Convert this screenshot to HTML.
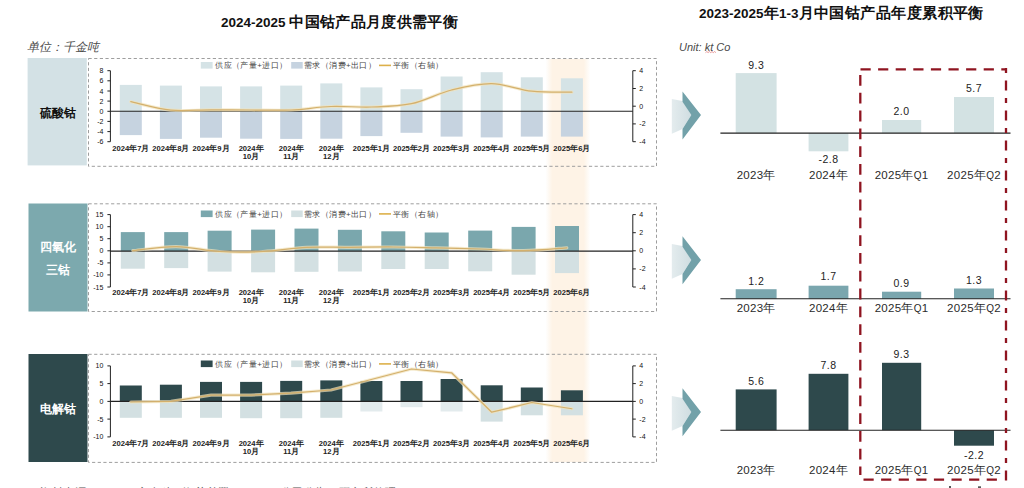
<!DOCTYPE html>
<html><head><meta charset="utf-8"><style>
*{margin:0;padding:0}
html,body{width:1024px;height:488px;overflow:hidden;background:#fff}
body{position:relative;font-family:"Liberation Sans", sans-serif}
svg{position:absolute;left:0;top:0}
.tk{font-size:7px;fill:#111;font-family:"Liberation Sans", sans-serif}
.xl{font-size:7.6px;fill:#222;font-family:"Liberation Sans", sans-serif;font-weight:bold}
.lg{font-size:7.9px;letter-spacing:0.4px;fill:#444;font-family:"Liberation Sans", sans-serif}
.vl{font-size:10.5px;fill:#222;font-family:"Liberation Sans", sans-serif;letter-spacing:0.5px}
.ct{font-size:11.5px;fill:#2a2a2a;font-family:"Liberation Sans", sans-serif;letter-spacing:0.3px}
.t{position:absolute;white-space:nowrap;font-family:"Liberation Sans", sans-serif}
</style></head><body>
<svg width="1024" height="488" viewBox="0 0 1024 488">
<defs><linearGradient id="hl" x1="0" x2="1" y1="0" y2="0"><stop offset="0" stop-color="#fdf3e6" stop-opacity="0"/><stop offset="0.15" stop-color="#fef3e6"/><stop offset="0.85" stop-color="#fef3e6"/><stop offset="1" stop-color="#fdf3e6" stop-opacity="0"/></linearGradient></defs><rect x="545.5" y="59" width="45" height="403" fill="url(#hl)"/><rect x="27.6" y="58" width="59.2" height="107.4" fill="#d3e1e5"/><rect x="28.5" y="203.5" width="59" height="108" fill="#7ca9ae"/><rect x="28.5" y="354" width="59" height="108" fill="#2e494c"/><rect x="88.5" y="58.5" width="568.0" height="107.80000000000001" fill="none" stroke="#9e9e9e" stroke-width="1" stroke-dasharray="3.2 2.45"/><rect x="88.5" y="203.8" width="568.0" height="107.69999999999999" fill="none" stroke="#9e9e9e" stroke-width="1" stroke-dasharray="3.2 2.45"/><rect x="88.5" y="354.3" width="568.0" height="108.09999999999997" fill="none" stroke="#9e9e9e" stroke-width="1" stroke-dasharray="3.2 2.45"/><rect x="119.8" y="84.9" width="22" height="26.4" fill="#d5e3e6"/><rect x="119.8" y="111.3" width="22" height="23.8" fill="#c6d3e0"/><rect x="159.9" y="85.6" width="22" height="25.7" fill="#d5e3e6"/><rect x="159.9" y="111.3" width="22" height="27.6" fill="#c6d3e0"/><rect x="200.0" y="86.4" width="22" height="24.9" fill="#d5e3e6"/><rect x="200.0" y="111.3" width="22" height="26.4" fill="#c6d3e0"/><rect x="240.1" y="86.4" width="22" height="24.9" fill="#d5e3e6"/><rect x="240.1" y="111.3" width="22" height="27.4" fill="#c6d3e0"/><rect x="280.2" y="85.6" width="22" height="25.7" fill="#d5e3e6"/><rect x="280.2" y="111.3" width="22" height="27.6" fill="#c6d3e0"/><rect x="320.3" y="83.4" width="22" height="27.9" fill="#d5e3e6"/><rect x="320.3" y="111.3" width="22" height="27.4" fill="#c6d3e0"/><rect x="360.4" y="87.4" width="22" height="23.9" fill="#d5e3e6"/><rect x="360.4" y="111.3" width="22" height="24.8" fill="#c6d3e0"/><rect x="400.5" y="89.2" width="22" height="22.1" fill="#d5e3e6"/><rect x="400.5" y="111.3" width="22" height="21.5" fill="#c6d3e0"/><rect x="440.6" y="76.5" width="22" height="34.8" fill="#d5e3e6"/><rect x="440.6" y="111.3" width="22" height="25.3" fill="#c6d3e0"/><rect x="480.7" y="72.2" width="22" height="39.1" fill="#d5e3e6"/><rect x="480.7" y="111.3" width="22" height="26.1" fill="#c6d3e0"/><rect x="520.8" y="77.3" width="22" height="34.0" fill="#d5e3e6"/><rect x="520.8" y="111.3" width="22" height="25.3" fill="#c6d3e0"/><rect x="560.9" y="78.3" width="22" height="33.0" fill="#d5e3e6"/><rect x="560.9" y="111.3" width="22" height="25.3" fill="#c6d3e0"/><line x1="110.4" x2="632.8" y1="111.3" y2="111.3" stroke="#222" stroke-width="1.1"/><line x1="110.4" x2="110.4" y1="70.7" y2="141.7" stroke="#222" stroke-width="1"/><line x1="632.8" x2="632.8" y1="70.7" y2="141.7" stroke="#222" stroke-width="1"/><line x1="107.4" x2="110.4" y1="70.7" y2="70.7" stroke="#222" stroke-width="1"/><text x="103.4" y="73.2" text-anchor="end" class="tk">8</text><line x1="107.4" x2="110.4" y1="80.8" y2="80.8" stroke="#222" stroke-width="1"/><text x="103.4" y="83.3" text-anchor="end" class="tk">6</text><line x1="107.4" x2="110.4" y1="91.0" y2="91.0" stroke="#222" stroke-width="1"/><text x="103.4" y="93.5" text-anchor="end" class="tk">4</text><line x1="107.4" x2="110.4" y1="101.1" y2="101.1" stroke="#222" stroke-width="1"/><text x="103.4" y="103.6" text-anchor="end" class="tk">2</text><line x1="107.4" x2="110.4" y1="111.3" y2="111.3" stroke="#222" stroke-width="1"/><text x="103.4" y="113.8" text-anchor="end" class="tk">0</text><line x1="107.4" x2="110.4" y1="121.4" y2="121.4" stroke="#222" stroke-width="1"/><text x="103.4" y="123.9" text-anchor="end" class="tk">-2</text><line x1="107.4" x2="110.4" y1="131.6" y2="131.6" stroke="#222" stroke-width="1"/><text x="103.4" y="134.1" text-anchor="end" class="tk">-4</text><line x1="107.4" x2="110.4" y1="141.7" y2="141.7" stroke="#222" stroke-width="1"/><text x="103.4" y="144.2" text-anchor="end" class="tk">-6</text><line x1="632.8" x2="635.8" y1="70.7" y2="70.7" stroke="#222" stroke-width="1"/><text x="639.3" y="73.2" class="tk">4</text><line x1="632.8" x2="635.8" y1="88.5" y2="88.5" stroke="#222" stroke-width="1"/><text x="639.3" y="91.0" class="tk">2</text><line x1="632.8" x2="635.8" y1="106.2" y2="106.2" stroke="#222" stroke-width="1"/><text x="639.3" y="108.7" class="tk">0</text><line x1="632.8" x2="635.8" y1="123.9" y2="123.9" stroke="#222" stroke-width="1"/><text x="639.3" y="126.4" class="tk">-2</text><line x1="632.8" x2="635.8" y1="141.7" y2="141.7" stroke="#222" stroke-width="1"/><text x="639.3" y="144.2" class="tk">-4</text><path d="M130.8,101.7 C137.5,103.1 157.5,108.9 170.9,110.2 C184.3,111.5 197.7,109.8 211,109.8 C224.3,109.8 237.7,110.0 251,110 C264.3,110.0 277.7,110.6 291,110 C304.3,109.4 317.6,107.0 331,106.5 C344.4,106.0 358.0,107.5 371.4,107 C384.8,106.5 398.1,106.5 411.5,103.7 C424.9,100.9 438.2,93.3 451.6,90 C465.0,86.7 478.3,83.4 491.7,83.6 C505.1,83.8 518.4,89.8 531.8,91.2 C545.2,92.6 565.2,92.0 571.9,92.2" fill="none" stroke="#f1e2bb" stroke-width="3.2" stroke-linejoin="round" stroke-linecap="round" opacity="0.7"/><path d="M130.8,101.7 C137.5,103.1 157.5,108.9 170.9,110.2 C184.3,111.5 197.7,109.8 211,109.8 C224.3,109.8 237.7,110.0 251,110 C264.3,110.0 277.7,110.6 291,110 C304.3,109.4 317.6,107.0 331,106.5 C344.4,106.0 358.0,107.5 371.4,107 C384.8,106.5 398.1,106.5 411.5,103.7 C424.9,100.9 438.2,93.3 451.6,90 C465.0,86.7 478.3,83.4 491.7,83.6 C505.1,83.8 518.4,89.8 531.8,91.2 C545.2,92.6 565.2,92.0 571.9,92.2" fill="none" stroke="#d4b06c" stroke-width="1.25" stroke-linejoin="round" stroke-linecap="round"/><text x="130.8" y="150.6" text-anchor="middle" class="xl">2024年7月</text><text x="170.9" y="150.6" text-anchor="middle" class="xl">2024年8月</text><text x="211.0" y="150.6" text-anchor="middle" class="xl">2024年9月</text><text x="251.1" y="150.6" text-anchor="middle" class="xl">2024年</text><text x="251.1" y="159.1" text-anchor="middle" class="xl">10月</text><text x="291.2" y="150.6" text-anchor="middle" class="xl">2024年</text><text x="291.2" y="159.1" text-anchor="middle" class="xl">11月</text><text x="331.3" y="150.6" text-anchor="middle" class="xl">2024年</text><text x="331.3" y="159.1" text-anchor="middle" class="xl">12月</text><text x="371.4" y="150.6" text-anchor="middle" class="xl">2025年1月</text><text x="411.5" y="150.6" text-anchor="middle" class="xl">2025年2月</text><text x="451.6" y="150.6" text-anchor="middle" class="xl">2025年3月</text><text x="491.7" y="150.6" text-anchor="middle" class="xl">2025年4月</text><text x="531.8" y="150.6" text-anchor="middle" class="xl">2025年5月</text><text x="571.9" y="150.6" text-anchor="middle" class="xl">2025年6月</text><rect x="200.8" y="62" width="11.8" height="6.6" fill="#d5e3e6"/><text x="215.3" y="68.2" class="lg">供应（产量+进口）</text><rect x="291.2" y="62" width="11.5" height="6.6" fill="#c6d3e0"/><text x="304" y="68.2" class="lg">需求（消费+出口）</text><line x1="379" x2="391" y1="65.4" y2="65.4" stroke="#ddb04a" stroke-width="1.6"/><text x="393" y="68.2" class="lg">平衡（右轴）</text><rect x="120.8" y="232.1" width="24" height="19.0" fill="#7aa7ad"/><rect x="120.8" y="251.1" width="24" height="17.6" fill="#d3e0e2"/><rect x="164.2" y="232.1" width="24" height="19.0" fill="#7aa7ad"/><rect x="164.2" y="251.1" width="24" height="17.0" fill="#d3e0e2"/><rect x="207.6" y="230.7" width="24" height="20.4" fill="#7aa7ad"/><rect x="207.6" y="251.1" width="24" height="20.5" fill="#d3e0e2"/><rect x="251.1" y="229.6" width="24" height="21.5" fill="#7aa7ad"/><rect x="251.1" y="251.1" width="24" height="21.2" fill="#d3e0e2"/><rect x="294.5" y="228.6" width="24" height="22.5" fill="#7aa7ad"/><rect x="294.5" y="251.1" width="24" height="20.7" fill="#d3e0e2"/><rect x="337.9" y="229.8" width="24" height="21.3" fill="#7aa7ad"/><rect x="337.9" y="251.1" width="24" height="20.4" fill="#d3e0e2"/><rect x="381.3" y="231.3" width="24" height="19.8" fill="#7aa7ad"/><rect x="381.3" y="251.1" width="24" height="17.9" fill="#d3e0e2"/><rect x="424.7" y="232.5" width="24" height="18.6" fill="#7aa7ad"/><rect x="424.7" y="251.1" width="24" height="17.9" fill="#d3e0e2"/><rect x="468.2" y="230.6" width="24" height="20.5" fill="#7aa7ad"/><rect x="468.2" y="251.1" width="24" height="20.2" fill="#d3e0e2"/><rect x="511.6" y="226.9" width="24" height="24.2" fill="#7aa7ad"/><rect x="511.6" y="251.1" width="24" height="23.6" fill="#d3e0e2"/><rect x="555.0" y="226.0" width="24" height="25.1" fill="#7aa7ad"/><rect x="555.0" y="251.1" width="24" height="22.0" fill="#d3e0e2"/><line x1="110.4" x2="632.8" y1="251.1" y2="251.1" stroke="#222" stroke-width="1.1"/><line x1="110.4" x2="110.4" y1="214.6" y2="287.0" stroke="#222" stroke-width="1"/><line x1="632.8" x2="632.8" y1="214.6" y2="287.0" stroke="#222" stroke-width="1"/><line x1="107.4" x2="110.4" y1="214.6" y2="214.6" stroke="#222" stroke-width="1"/><text x="103.4" y="217.1" text-anchor="end" class="tk">15</text><line x1="107.4" x2="110.4" y1="226.7" y2="226.7" stroke="#222" stroke-width="1"/><text x="103.4" y="229.2" text-anchor="end" class="tk">10</text><line x1="107.4" x2="110.4" y1="238.7" y2="238.7" stroke="#222" stroke-width="1"/><text x="103.4" y="241.2" text-anchor="end" class="tk">5</text><line x1="107.4" x2="110.4" y1="250.8" y2="250.8" stroke="#222" stroke-width="1"/><text x="103.4" y="253.3" text-anchor="end" class="tk">0</text><line x1="107.4" x2="110.4" y1="262.9" y2="262.9" stroke="#222" stroke-width="1"/><text x="103.4" y="265.4" text-anchor="end" class="tk">-5</text><line x1="107.4" x2="110.4" y1="274.9" y2="274.9" stroke="#222" stroke-width="1"/><text x="103.4" y="277.4" text-anchor="end" class="tk">-10</text><line x1="107.4" x2="110.4" y1="287.0" y2="287.0" stroke="#222" stroke-width="1"/><text x="103.4" y="289.5" text-anchor="end" class="tk">-15</text><line x1="632.8" x2="635.8" y1="214.6" y2="214.6" stroke="#222" stroke-width="1"/><text x="639.3" y="217.1" class="tk">4</text><line x1="632.8" x2="635.8" y1="232.7" y2="232.7" stroke="#222" stroke-width="1"/><text x="639.3" y="235.2" class="tk">2</text><line x1="632.8" x2="635.8" y1="250.8" y2="250.8" stroke="#222" stroke-width="1"/><text x="639.3" y="253.3" class="tk">0</text><line x1="632.8" x2="635.8" y1="268.9" y2="268.9" stroke="#222" stroke-width="1"/><text x="639.3" y="271.4" class="tk">-2</text><line x1="632.8" x2="635.8" y1="287.0" y2="287.0" stroke="#222" stroke-width="1"/><text x="639.3" y="289.5" class="tk">-4</text><path d="M132.8,250.7 C140.0,250.0 161.7,246.5 176.2,246.6 C190.7,246.7 205.1,250.7 219.6,251.5 C234.1,252.3 248.5,252.2 263,251.5 C277.5,250.8 291.9,248.0 306.4,247.3 C320.9,246.6 335.3,247.4 349.8,247.3 C364.3,247.2 378.7,246.9 393.2,247 C407.7,247.1 422.1,247.5 436.6,247.8 C451.1,248.1 465.5,248.5 480,249 C494.5,249.5 508.9,250.9 523.4,250.7 C537.9,250.5 559.6,248.3 566.8,247.8" fill="none" stroke="#f1e2bb" stroke-width="3.2" stroke-linejoin="round" stroke-linecap="round" opacity="0.7"/><path d="M132.8,250.7 C140.0,250.0 161.7,246.5 176.2,246.6 C190.7,246.7 205.1,250.7 219.6,251.5 C234.1,252.3 248.5,252.2 263,251.5 C277.5,250.8 291.9,248.0 306.4,247.3 C320.9,246.6 335.3,247.4 349.8,247.3 C364.3,247.2 378.7,246.9 393.2,247 C407.7,247.1 422.1,247.5 436.6,247.8 C451.1,248.1 465.5,248.5 480,249 C494.5,249.5 508.9,250.9 523.4,250.7 C537.9,250.5 559.6,248.3 566.8,247.8" fill="none" stroke="#d4b06c" stroke-width="1.25" stroke-linejoin="round" stroke-linecap="round"/><text x="130.8" y="294.6" text-anchor="middle" class="xl">2024年7月</text><text x="170.9" y="294.6" text-anchor="middle" class="xl">2024年8月</text><text x="211.0" y="294.6" text-anchor="middle" class="xl">2024年9月</text><text x="251.1" y="294.6" text-anchor="middle" class="xl">2024年</text><text x="251.1" y="303.1" text-anchor="middle" class="xl">10月</text><text x="291.2" y="294.6" text-anchor="middle" class="xl">2024年</text><text x="291.2" y="303.1" text-anchor="middle" class="xl">11月</text><text x="331.3" y="294.6" text-anchor="middle" class="xl">2024年</text><text x="331.3" y="303.1" text-anchor="middle" class="xl">12月</text><text x="371.4" y="294.6" text-anchor="middle" class="xl">2025年1月</text><text x="411.5" y="294.6" text-anchor="middle" class="xl">2025年2月</text><text x="451.6" y="294.6" text-anchor="middle" class="xl">2025年3月</text><text x="491.7" y="294.6" text-anchor="middle" class="xl">2025年4月</text><text x="531.8" y="294.6" text-anchor="middle" class="xl">2025年5月</text><text x="571.9" y="294.6" text-anchor="middle" class="xl">2025年6月</text><rect x="200.8" y="210.5" width="11.8" height="6.6" fill="#7aa7ad"/><text x="215.3" y="216.7" class="lg">供应（产量+进口）</text><rect x="291.2" y="210.5" width="11.5" height="6.6" fill="#d3e0e2"/><text x="304" y="216.7" class="lg">需求（消费+出口）</text><line x1="379" x2="391" y1="213.9" y2="213.9" stroke="#ddb04a" stroke-width="1.6"/><text x="393" y="216.7" class="lg">平衡（右轴）</text><rect x="119.8" y="385.5" width="22" height="15.9" fill="#2e494c"/><rect x="119.8" y="401.4" width="22" height="16.4" fill="#d3e0e2"/><rect x="159.9" y="384.7" width="22" height="16.7" fill="#2e494c"/><rect x="159.9" y="401.4" width="22" height="16.4" fill="#d3e0e2"/><rect x="200.0" y="381.9" width="22" height="19.5" fill="#2e494c"/><rect x="200.0" y="401.4" width="22" height="16.4" fill="#d3e0e2"/><rect x="240.1" y="381.9" width="22" height="19.5" fill="#2e494c"/><rect x="240.1" y="401.4" width="22" height="16.8" fill="#d3e0e2"/><rect x="280.2" y="380.9" width="22" height="20.5" fill="#2e494c"/><rect x="280.2" y="401.4" width="22" height="16.8" fill="#d3e0e2"/><rect x="320.3" y="380.4" width="22" height="21.0" fill="#2e494c"/><rect x="320.3" y="401.4" width="22" height="16.4" fill="#d3e0e2"/><rect x="360.4" y="381" width="22" height="20.4" fill="#2e494c"/><rect x="360.4" y="401.4" width="22" height="10.1" fill="#e3ebed"/><rect x="400.5" y="381" width="22" height="20.4" fill="#2e494c"/><rect x="400.5" y="401.4" width="22" height="5.8" fill="#e3ebed"/><rect x="440.6" y="379" width="22" height="22.4" fill="#2e494c"/><rect x="440.6" y="401.4" width="22" height="10.1" fill="#e3ebed"/><rect x="480.7" y="385.3" width="22" height="16.1" fill="#2e494c"/><rect x="480.7" y="401.4" width="22" height="20.2" fill="#d3e0e2"/><rect x="520.8" y="387.5" width="22" height="13.9" fill="#2e494c"/><rect x="520.8" y="401.4" width="22" height="13.9" fill="#d3e0e2"/><rect x="560.9" y="390.3" width="22" height="11.1" fill="#2e494c"/><rect x="560.9" y="401.4" width="22" height="13.9" fill="#d3e0e2"/><line x1="110.4" x2="632.8" y1="401.4" y2="401.4" stroke="#222" stroke-width="1.1"/><line x1="110.4" x2="110.4" y1="365.9" y2="436.9" stroke="#222" stroke-width="1"/><line x1="632.8" x2="632.8" y1="365.9" y2="436.9" stroke="#222" stroke-width="1"/><line x1="107.4" x2="110.4" y1="365.9" y2="365.9" stroke="#222" stroke-width="1"/><text x="103.4" y="368.4" text-anchor="end" class="tk">10</text><line x1="107.4" x2="110.4" y1="383.6" y2="383.6" stroke="#222" stroke-width="1"/><text x="103.4" y="386.1" text-anchor="end" class="tk">5</text><line x1="107.4" x2="110.4" y1="401.4" y2="401.4" stroke="#222" stroke-width="1"/><text x="103.4" y="403.9" text-anchor="end" class="tk">0</text><line x1="107.4" x2="110.4" y1="419.1" y2="419.1" stroke="#222" stroke-width="1"/><text x="103.4" y="421.6" text-anchor="end" class="tk">-5</text><line x1="107.4" x2="110.4" y1="436.9" y2="436.9" stroke="#222" stroke-width="1"/><text x="103.4" y="439.4" text-anchor="end" class="tk">-10</text><line x1="632.8" x2="635.8" y1="365.9" y2="365.9" stroke="#222" stroke-width="1"/><text x="639.3" y="368.4" class="tk">4</text><line x1="632.8" x2="635.8" y1="383.6" y2="383.6" stroke="#222" stroke-width="1"/><text x="639.3" y="386.1" class="tk">2</text><line x1="632.8" x2="635.8" y1="401.4" y2="401.4" stroke="#222" stroke-width="1"/><text x="639.3" y="403.9" class="tk">0</text><line x1="632.8" x2="635.8" y1="419.1" y2="419.1" stroke="#222" stroke-width="1"/><text x="639.3" y="421.6" class="tk">-2</text><line x1="632.8" x2="635.8" y1="436.9" y2="436.9" stroke="#222" stroke-width="1"/><text x="639.3" y="439.4" class="tk">-4</text><path d="M130.8,402 L170.9,401.4 L211,395.1 L251,395.1 L291,393.1 L331,390 L411.5,369 L451.6,372.8 L491.7,412.2 L531.8,402.5 L571.9,408.75" fill="none" stroke="#f1e2bb" stroke-width="3.2" stroke-linejoin="round" stroke-linecap="round" opacity="0.7"/><path d="M130.8,402 L170.9,401.4 L211,395.1 L251,395.1 L291,393.1 L331,390 L411.5,369 L451.6,372.8 L491.7,412.2 L531.8,402.5 L571.9,408.75" fill="none" stroke="#d4b06c" stroke-width="1.25" stroke-linejoin="round" stroke-linecap="round"/><text x="130.8" y="445.8" text-anchor="middle" class="xl">2024年7月</text><text x="170.9" y="445.8" text-anchor="middle" class="xl">2024年8月</text><text x="211.0" y="445.8" text-anchor="middle" class="xl">2024年9月</text><text x="251.1" y="445.8" text-anchor="middle" class="xl">2024年</text><text x="251.1" y="454.3" text-anchor="middle" class="xl">10月</text><text x="291.2" y="445.8" text-anchor="middle" class="xl">2024年</text><text x="291.2" y="454.3" text-anchor="middle" class="xl">11月</text><text x="331.3" y="445.8" text-anchor="middle" class="xl">2024年</text><text x="331.3" y="454.3" text-anchor="middle" class="xl">12月</text><text x="371.4" y="445.8" text-anchor="middle" class="xl">2025年1月</text><text x="411.5" y="445.8" text-anchor="middle" class="xl">2025年2月</text><text x="451.6" y="445.8" text-anchor="middle" class="xl">2025年3月</text><text x="491.7" y="445.8" text-anchor="middle" class="xl">2025年4月</text><text x="531.8" y="445.8" text-anchor="middle" class="xl">2025年5月</text><text x="571.9" y="445.8" text-anchor="middle" class="xl">2025年6月</text><rect x="200.8" y="360.5" width="11.8" height="6.6" fill="#2e494c"/><text x="215.3" y="366.7" class="lg">供应（产量+进口）</text><rect x="291.2" y="360.5" width="11.5" height="6.6" fill="#d3e0e2"/><text x="304" y="366.7" class="lg">需求（消费+出口）</text><line x1="379" x2="391" y1="363.9" y2="363.9" stroke="#ddb04a" stroke-width="1.6"/><text x="393" y="366.7" class="lg">平衡（右轴）</text><defs><linearGradient id="lc" x1="0" x2="1" y1="0" y2="0"><stop offset="0" stop-color="#e4ecee"/><stop offset="1" stop-color="#cfdde1"/></linearGradient></defs><polygon points="671.8,99.1 682.5,101.1 691.3,115.1 682.5,129.1 671.8,133.79999999999998" fill="url(#lc)"/><polygon points="682.5,91.39999999999999 701,115.1 682.5,139.4 682.5,129.1 691.3,115.1 682.5,101.8" fill="#72a1a9"/><polygon points="671.8,244 682.5,246 691.3,260 682.5,274 671.8,278.7" fill="url(#lc)"/><polygon points="682.5,236.3 701,260 682.5,284.3 682.5,274 691.3,260 682.5,246.7" fill="#72a1a9"/><polygon points="671.8,396 682.5,398 691.3,412 682.5,426 671.8,430.7" fill="url(#lc)"/><polygon points="682.5,388.3 701,412 682.5,436.3 682.5,426 691.3,412 682.5,398.7" fill="#72a1a9"/><rect x="735.7" y="73.1" width="40.9" height="60.0" fill="#d3e2e3"/><text x="756.2" y="68.8" text-anchor="middle" class="vl">9.3</text><text x="756.2" y="178.8" text-anchor="middle" class="ct">2023年</text><rect x="808.6" y="133.1" width="39.8" height="18.2" fill="#d3e2e3"/><text x="828.5" y="163.3" text-anchor="middle" class="vl">-2.8</text><text x="828.5" y="178.8" text-anchor="middle" class="ct">2024年</text><rect x="882" y="120" width="39.2" height="13.1" fill="#d3e2e3"/><text x="901.6" y="114.8" text-anchor="middle" class="vl">2.0</text><text x="901.6" y="178.8" text-anchor="middle" class="ct">2025年<tspan style="font-size:10px">Q</tspan>1</text><rect x="954" y="97" width="40.0" height="36.1" fill="#d3e2e3"/><text x="974.0" y="91.8" text-anchor="middle" class="vl">5.7</text><text x="974.0" y="178.8" text-anchor="middle" class="ct">2025年<tspan style="font-size:10px">Q</tspan>2</text><line x1="720.4" x2="1010.5" y1="133.1" y2="133.1" stroke="#222" stroke-width="1.1"/><rect x="735.7" y="289.2" width="40.9" height="9.6" fill="#7aa6ae"/><text x="756.2" y="284.8" text-anchor="middle" class="vl">1.2</text><text x="756.2" y="311.5" text-anchor="middle" class="ct">2023年</text><rect x="808.6" y="285.7" width="39.8" height="13.1" fill="#7aa6ae"/><text x="828.5" y="280.2" text-anchor="middle" class="vl">1.7</text><text x="828.5" y="311.5" text-anchor="middle" class="ct">2024年</text><rect x="882" y="291.7" width="39.2" height="7.1" fill="#7aa6ae"/><text x="901.6" y="286.6" text-anchor="middle" class="vl">0.9</text><text x="901.6" y="311.5" text-anchor="middle" class="ct">2025年<tspan style="font-size:10px">Q</tspan>1</text><rect x="954" y="288.5" width="40.0" height="10.3" fill="#7aa6ae"/><text x="974.0" y="283.8" text-anchor="middle" class="vl">1.3</text><text x="974.0" y="311.5" text-anchor="middle" class="ct">2025年<tspan style="font-size:10px">Q</tspan>2</text><line x1="720.4" x2="1010.5" y1="298.8" y2="298.8" stroke="#222" stroke-width="1.1"/><rect x="735.7" y="389.4" width="40.9" height="40.8" fill="#2e494c"/><text x="756.2" y="384.7" text-anchor="middle" class="vl">5.6</text><text x="756.2" y="473.8" text-anchor="middle" class="ct">2023年</text><rect x="808.6" y="373.8" width="39.8" height="56.4" fill="#2e494c"/><text x="828.5" y="369.4" text-anchor="middle" class="vl">7.8</text><text x="828.5" y="473.8" text-anchor="middle" class="ct">2024年</text><rect x="882" y="362.8" width="39.2" height="67.4" fill="#2e494c"/><text x="901.6" y="358.0" text-anchor="middle" class="vl">9.3</text><text x="901.6" y="473.8" text-anchor="middle" class="ct">2025年<tspan style="font-size:10px">Q</tspan>1</text><rect x="954" y="430.2" width="40.0" height="15.5" fill="#2e494c"/><text x="974.0" y="458.6" text-anchor="middle" class="vl">-2.2</text><text x="974.0" y="473.8" text-anchor="middle" class="ct">2025年<tspan style="font-size:10px">Q</tspan>2</text><line x1="720.4" x2="1010.5" y1="430.2" y2="430.2" stroke="#222" stroke-width="1.1"/><line x1="860.5" x2="1007" y1="69.4" y2="69.4" stroke="#8f1420" stroke-width="2.3" stroke-dasharray="10.2 7.4"/><line x1="1006" x2="1006" y1="68" y2="481" stroke="#8f1420" stroke-width="2.3" stroke-dasharray="5 7.4 10.2 7.4"/><line x1="860.3" x2="860.3" y1="75" y2="475" stroke="#8f1420" stroke-width="2.3" stroke-dasharray="10.8 7"/><line x1="863.5" x2="1004" y1="479.6" y2="479.6" stroke="#8f1420" stroke-width="2.3" stroke-dasharray="10.2 7.4"/><path d="M705.5,52.6 l1.3,-1 1.3,1 1.3,-1 1.3,1 1.3,-1 1.3,1 1.3,-1 1.3,1" fill="none" stroke="#e07070" stroke-width="0.7"/><rect x="949" y="486" width="2" height="2" fill="#555"/><rect x="978" y="486.3" width="3" height="1.7" fill="#555"/>
</svg>
<div class="t" style="left:221px;top:12px;font-weight:bold;color:#111;font-size:13.5px;line-height:20px"><span>2024-2025 </span><span style="font-size:15px;letter-spacing:0.33px">中国钴产品月度供需平衡</span></div>
<div class="t" style="left:699px;top:3px;font-weight:bold;color:#111;font-size:13.5px;line-height:20px"><span>2023-2025</span><span style="font-size:15px;letter-spacing:0.45px">年</span><span>1-3</span><span style="font-size:15px;letter-spacing:0.45px">月中国钴产品年度累积平衡</span></div>
<div class="t" style="left:26.5px;top:39px;font-size:12px;font-style:italic;color:#4a4a4a">单位：千金吨</div>
<div class="t" style="left:679px;top:41px;font-size:11px;font-style:italic;color:#4a4a4a">Unit: kt Co</div>
<div class="t" style="left:27.5px;top:105px;width:60px;text-align:center;font-size:12px;font-weight:bold;color:#111">硫酸钴</div>
<div class="t" style="left:28.5px;top:236px;width:59px;text-align:center;font-size:12px;font-weight:bold;color:#fff;line-height:22.5px">四氧化<br>三钴</div>
<div class="t" style="left:28.5px;top:401px;width:59px;text-align:center;font-size:12px;font-weight:bold;color:#fff">电解钴</div>
<div class="t" style="left:40px;top:484.5px;font-size:11px;letter-spacing:0.6px;color:#555">资料来源：SMM，安泰科，海关总署，Wind，公司公告，研究所整理</div>
</body></html>
